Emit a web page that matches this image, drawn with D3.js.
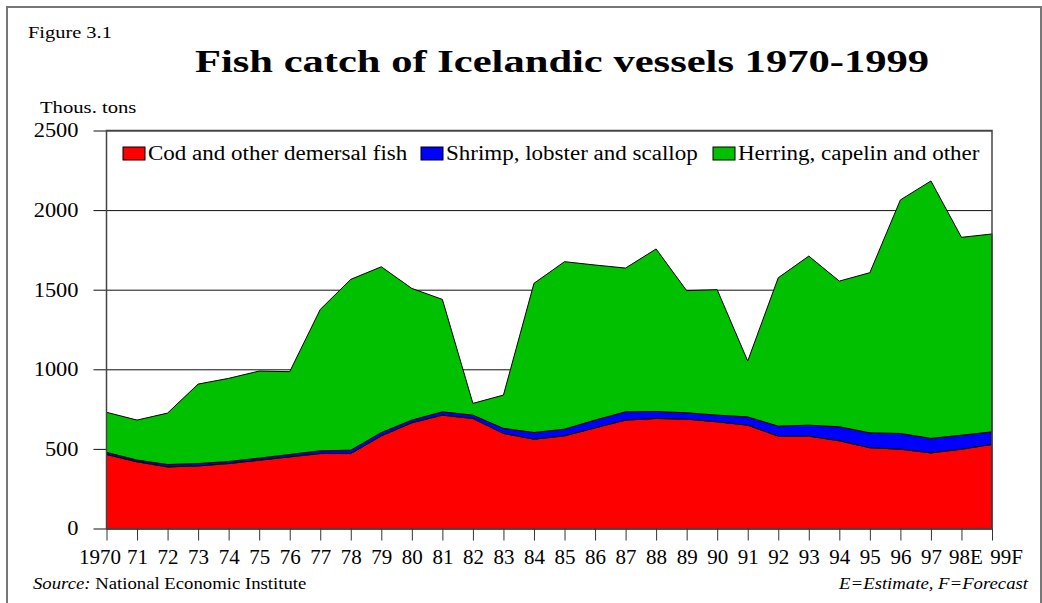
<!DOCTYPE html>
<html>
<head>
<meta charset="utf-8">
<script src="https://cdn.jsdelivr.net/npm/d3@7"></script>
<style>
  body { margin: 0; background: #fff; }
  #svg-container { width: 1042px; height: 603px; }
  svg text { font-family: "Liberation Serif", "Times New Roman", serif; fill: #000; }
</style>
</head>
<body>
<div id="svg-container"></div>
<script>
// data (thous. tons)
const yearLabels = ["1970", "71", "72", "73", "74", "75", "76", "77", "78", "79",
  "80", "81", "82", "83", "84", "85", "86", "87", "88", "89",
  "90", "91", "92", "93", "94", "95", "96", "97", "98E", "99F"];
const cod = [465, 419, 387, 393, 408, 429, 450, 471, 471, 582,
  664, 712, 691, 597, 561, 582, 632, 681, 691, 687,
  670, 649, 580, 580, 551, 507, 498, 475, 498, 528];
const shrimp = [13, 11, 15, 15, 13, 13, 15, 17, 21, 21,
  17, 21, 21, 32, 42, 42, 49, 52, 44, 40,
  42, 52, 63, 69, 88, 94, 99, 91, 88, 79];
const herring = [252, 251, 323, 499, 522, 547, 520, 888, 1073, 1041,
  827, 706, 74, 209, 937, 1052, 974, 903, 1021, 767,
  788, 351, 932, 1062, 915, 1006, 1467, 1617, 1243, 1243];
const seriesKeys = ["cod", "shrimp", "herring"];
const seriesNames = ["Cod and other demersal fish", "Shrimp, lobster and scallop", "Herring, capelin and other"];
const seriesColors = ["#ff0000", "#0000ff", "#00c000"];
const yTicks = [0, 500, 1000, 1500, 2000, 2500];

const width = 1042;
const height = 603;
const margin = { top: 130.5, right: 50, bottom: 74.5, left: 106.5 };

const svg = d3.select("#svg-container").append("svg")
  .attr("width", width).attr("height", height);

// widen glyphs a bit (the original type is set wide)
function stretch(sel, k) {
  sel.each(function () {
    const w = this.getComputedTextLength();
    d3.select(this).attr("textLength", w * k).attr("lengthAdjust", "spacingAndGlyphs");
  });
}

// outer frame
svg.append("rect")
  .attr("x", 7).attr("y", 7)
  .attr("width", 1034).attr("height", 640)
  .attr("fill", "none").attr("stroke", "#777").attr("stroke-width", 2);

// scales
const xScale = d3.scalePoint().domain(yearLabels).range([margin.left, width - margin.right]);
const yScale = d3.scaleLinear().domain([0, 2500]).range([height - margin.bottom, margin.top]);

const table = yearLabels.map((y, i) => ({ year: y, cod: cod[i], shrimp: shrimp[i], herring: herring[i] }));
const stacked = d3.stack().keys(seriesKeys)(table);

// gridlines + y ticks
const yAxis = d3.axisLeft(yScale)
  .tickValues(yTicks)
  .tickFormat(d3.format("d"))
  .tickSizeInner(-(width - margin.right - (margin.left - 13)))
  .tickSizeOuter(0)
  .tickPadding(15);

const yG = svg.append("g")
  .attr("class", "y-axis")
  .attr("transform", `translate(${margin.left - 13},0)`)
  .call(yAxis);
yG.select(".domain").remove();
yG.selectAll("line").attr("stroke", "#111").attr("stroke-width", 1);
yG.selectAll("text").style("font-size", "20px");
stretch(yG.selectAll("text"), 1.12);

// areas
const area = d3.area()
  .x((d) => xScale(d.data.year))
  .y0((d) => yScale(d[0]))
  .y1((d) => yScale(d[1]));

svg.append("g")
  .selectAll("path")
  .data(stacked)
  .enter()
  .append("path")
  .attr("d", area)
  .attr("fill", (d, i) => seriesColors[i])
  .attr("stroke", "#000")
  .attr("stroke-width", 1)
  .attr("stroke-linejoin", "miter");

// plot frame
svg.append("rect")
  .attr("x", margin.left).attr("y", margin.top)
  .attr("width", width - margin.right - margin.left)
  .attr("height", height - margin.bottom - margin.top)
  .attr("fill", "none").attr("stroke", "#444").attr("stroke-width", 1.5);

// x axis
const xAxis = d3.axisBottom(xScale).tickSizeInner(12).tickSizeOuter(0).tickPadding(9);
const xG = svg.append("g")
  .attr("class", "x-axis")
  .attr("transform", `translate(0,${height - margin.bottom})`)
  .call(xAxis);
xG.select(".domain").attr("stroke", "#444").attr("stroke-width", 1.5);
xG.selectAll("line").attr("stroke", "#333");
// end labels are nudged outward like the original so they don't collide
const n = yearLabels.length;
xG.selectAll("text")
  .style("font-size", "21px")
  .attr("dx", (d, i) => (i === 0 ? -7 : i === n - 1 ? 14 : i === n - 2 ? 4 : 0));

// legend
const legendX = [123, 421, 713];
const legend = svg.append("g").attr("class", "legend");
legend.selectAll("rect")
  .data(seriesNames)
  .enter()
  .append("rect")
  .attr("x", (d, i) => legendX[i])
  .attr("y", 147)
  .attr("width", 22)
  .attr("height", 13)
  .attr("fill", (d, i) => seriesColors[i])
  .attr("stroke", "#000");
const legendTexts = legend.selectAll("text")
  .data(seriesNames)
  .enter()
  .append("text")
  .attr("x", (d, i) => legendX[i] + 25)
  .attr("y", 160)
  .style("font-size", "20px")
  .text((d) => d);
stretch(legendTexts, 1.15);

// titles
const title = svg.append("text")
  .attr("x", 562).attr("y", 72)
  .attr("text-anchor", "middle")
  .style("font-size", "32px")
  .style("font-weight", "bold")
  .text("Fish catch of Icelandic vessels 1970-1999");
stretch(title, 1.33);

const fig = svg.append("text")
  .attr("x", 28).attr("y", 38)
  .style("font-size", "17px")
  .text("Figure 3.1");
stretch(fig, 1.2);

const unit = svg.append("text")
  .attr("x", 40).attr("y", 113)
  .style("font-size", "17.5px")
  .text("Thous. tons");
stretch(unit, 1.18);

// footer
const src = svg.append("text")
  .attr("x", 33).attr("y", 589)
  .style("font-size", "16px");
src.append("tspan").style("font-style", "italic").text("Source:");
src.append("tspan").text(" National Economic Institute");
stretch(src, 1.17);

const note = svg.append("text")
  .attr("x", 1028).attr("y", 589)
  .attr("text-anchor", "end")
  .style("font-size", "16px")
  .style("font-style", "italic")
  .text("E=Estimate, F=Forecast");
stretch(note, 1.17);
</script>
</body>
</html>
